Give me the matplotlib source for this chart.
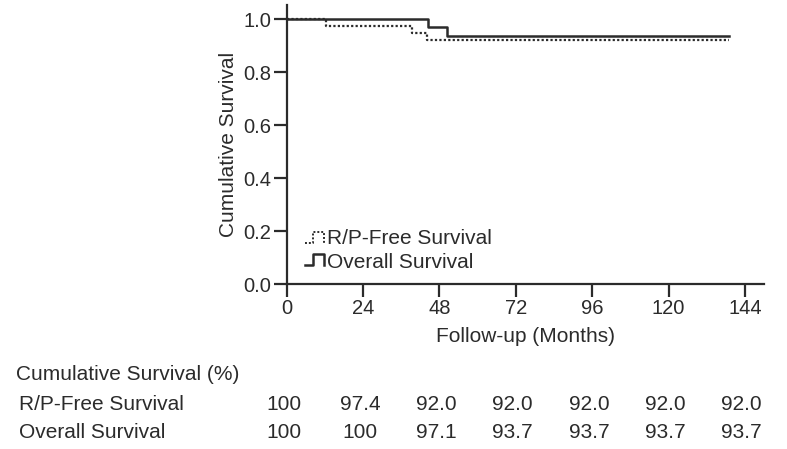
import matplotlib
matplotlib.use("Agg")
import matplotlib.pyplot as plt
from matplotlib.lines import Line2D

plt.rcParams["font.family"] = ["Liberation Sans", "DejaVu Sans"]

# ── data ─────────────────────────────────────────
rp_months = [0, 12.5, 39.5, 44, 139]
rp_surv = [1.0, 0.974, 0.947, 0.92, 0.92]
os_months = [0, 44.5, 50.5, 139]
os_surv = [1.0, 0.971, 0.937, 0.937]

table_months = [0, 24, 48, 72, 96, 120, 144]
rp_table = ["100", "97.4", "92.0", "92.0", "92.0", "92.0", "92.0"]
os_table = ["100", "100", "97.1", "93.7", "93.7", "93.7", "93.7"]

x_ticks = [0, 24, 48, 72, 96, 120, 144]
y_ticks = [0.0, 0.2, 0.4, 0.6, 0.8, 1.0]

INK = "#2b2b2b"
W, H = 787, 449

fig = plt.figure(figsize=(W / 100, H / 100), dpi=100)
fig.patch.set_facecolor("white")
ax = fig.add_axes([286.7 / W, 1 - 284 / H, (764 - 286.7) / W, (284 - 5) / H])

ax.step(rp_months, rp_surv, where="post", color=INK, lw=1.6, ls=(0, (1, 1)))
ax.step(os_months, os_surv, where="post", color=INK, lw=1.8)

ax.set_xlim(0, 150)
ax.set_ylim(0, 1.053)
ax.set_xticks(x_ticks)
ax.set_yticks(y_ticks)
ax.set_yticklabels([f"{v:.1f}" for v in y_ticks])
for s in ("top", "right"):
    ax.spines[s].set_visible(False)
for s in ("left", "bottom"):
    ax.spines[s].set_linewidth(1.6)
    ax.spines[s].set_color(INK)
ax.tick_params(direction="out", length=9.5, width=1.6, colors=INK,
               labelsize=14.5, pad=1.5)
ax.set_ylabel("Cumulative Survival", fontsize=15, color=INK, labelpad=4)
ax.set_xlabel("Follow-up (Months)", fontsize=15, color=INK, labelpad=6)


def px(x, y):
    return x / W, 1 - y / H


# legend drawn by hand (step-shaped handles)
def handle(y_low, y_high, **kw):
    xs = [305, 313, 313, 324, 324]
    ys = [y_low, y_low, y_high, y_high, y_low]
    pts = [px(a, b) for a, b in zip(xs, ys)]
    fig.add_artist(Line2D([p[0] for p in pts], [p[1] for p in pts],
                          transform=fig.transFigure, color=INK, **kw))


handle(243, 232, lw=1.4, ls=(0, (1, 1)))
handle(265, 254, lw=1.8)
fig.text(*px(327, 239), "R/P-Free Survival", fontsize=15, color=INK, va="center")
fig.text(*px(327, 262), "Overall Survival", fontsize=15, color=INK, va="center")

# table under the plot
fig.text(*px(16, 375), "Cumulative Survival (%)", fontsize=15, color=INK, va="center")
fig.text(*px(19, 404), "R/P-Free Survival", fontsize=15, color=INK, va="center")
fig.text(*px(19, 433), "Overall Survival", fontsize=15, color=INK, va="center")

blend = matplotlib.transforms.blended_transform_factory(ax.transData, fig.transFigure)
for m, a, b in zip(table_months, rp_table, os_table):
    fig.text(m - 1, 1 - 404 / H, a, transform=blend, fontsize=15, color=INK,
             ha="center", va="center")
    fig.text(m - 1, 1 - 433 / H, b, transform=blend, fontsize=15, color=INK,
             ha="center", va="center")

fig.savefig("out.png", dpi=100, facecolor="white")
